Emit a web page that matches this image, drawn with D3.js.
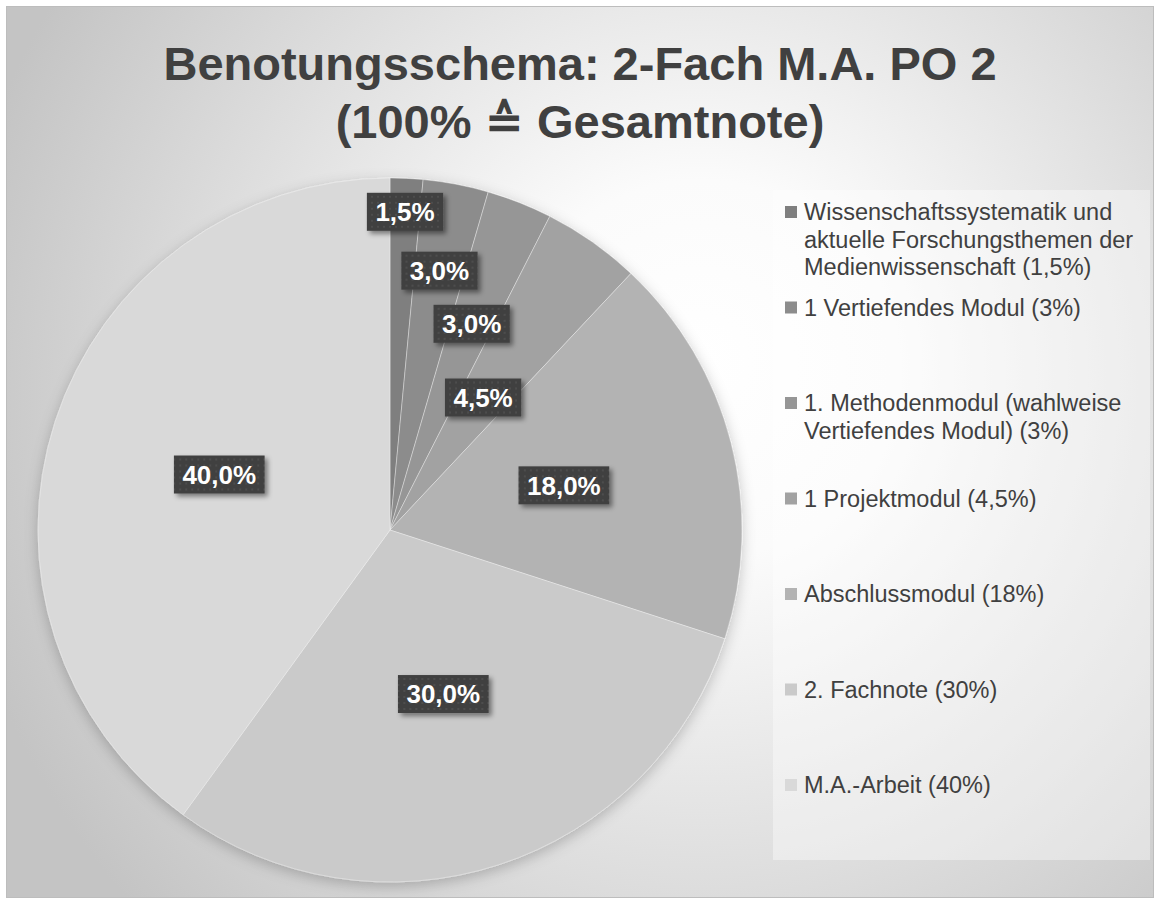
<!DOCTYPE html>
<html>
<head>
<meta charset="utf-8">
<script src="https://cdn.jsdelivr.net/npm/d3@7"></script>
<style>
  html, body { margin: 0; padding: 0; background: #ffffff; }
  svg { display: block; }
  text { font-family: "Liberation Sans", Arial, "DejaVu Sans", sans-serif; }
</style>
</head>
<body>
<svg id="chart" width="1160" height="904"></svg>
<script>
// ---- data ----
const titleLines = ["Benotungsschema: 2-Fach M.A. PO 2", "(100% \u2259 Gesamtnote)"];
const categories = [
  "Wissenschaftssystematik und aktuelle Forschungsthemen der Medienwissenschaft (1,5%)",
  "1 Vertiefendes Modul (3%)",
  "1. Methodenmodul (wahlweise Vertiefendes Modul) (3%)",
  "1 Projektmodul (4,5%)",
  "Abschlussmodul (18%)",
  "2. Fachnote (30%)",
  "M.A.-Arbeit (40%)"
];
const legendLines = [
  ["Wissenschaftssystematik und", "aktuelle Forschungsthemen der", "Medienwissenschaft (1,5%)"],
  ["1 Vertiefendes Modul (3%)"],
  ["1. Methodenmodul (wahlweise", "Vertiefendes Modul) (3%)"],
  ["1 Projektmodul (4,5%)"],
  ["Abschlussmodul (18%)"],
  ["2. Fachnote (30%)"],
  ["M.A.-Arbeit (40%)"]
];
const values = [1.5, 3.0, 3.0, 4.5, 18.0, 30.0, 40.0];
const dataLabels = ["1,5%", "3,0%", "3,0%", "4,5%", "18,0%", "30,0%", "40,0%"];
// styling / layout (not data)
const sliceColors = ["#7f7f7f", "#8c8c8c", "#969696", "#a2a2a2", "#b3b3b3", "#cacaca", "#d9d9d9"];
const labelRadiusFrac = [0.905, 0.75, 0.63, 0.46, 0.51, 0.49, 0.51];

const W = 1160, H = 904;
const svg = d3.select("#chart");
const defs = svg.append("defs");

// background gradient
const bg = defs.append("radialGradient").attr("id", "bgGrad")
  .attr("gradientUnits", "userSpaceOnUse")
  .attr("cx", 700).attr("cy", 400).attr("r", 760)
  .attr("fx", 700).attr("fy", 360);
bg.append("stop").attr("offset", "0").attr("stop-color", "#ffffff");
bg.append("stop").attr("offset", "0.25").attr("stop-color", "#fbfbfb");
bg.append("stop").attr("offset", "0.7").attr("stop-color", "#dadada");
bg.append("stop").attr("offset", "1").attr("stop-color", "#c4c4c4");

// dotted pattern for data label boxes
const pat = defs.append("pattern").attr("id", "dots")
  .attr("patternUnits", "userSpaceOnUse").attr("width", 6).attr("height", 6);
pat.append("rect").attr("width", 6).attr("height", 6).attr("fill", "#404040");
pat.append("rect").attr("x", 2).attr("y", 2).attr("width", 2).attr("height", 2).attr("fill", "#4d4d4d");

const pieShadow = defs.append("filter").attr("id", "pieShadow")
  .attr("x", "-20%").attr("y", "-20%").attr("width", "140%").attr("height", "140%");
pieShadow.append("feDropShadow").attr("dx", 0).attr("dy", 4).attr("stdDeviation", 7)
  .attr("flood-color", "#000").attr("flood-opacity", 0.22);

const boxShadow = defs.append("filter").attr("id", "boxShadow")
  .attr("x", "-20%").attr("y", "-30%").attr("width", "150%").attr("height", "170%");
boxShadow.append("feDropShadow").attr("dx", 3).attr("dy", 3).attr("stdDeviation", 2.5)
  .attr("flood-color", "#000").attr("flood-opacity", 0.45);

// chart area
svg.append("rect").attr("x", 6.5).attr("y", 6.5).attr("width", 1147).attr("height", 891)
  .attr("fill", "url(#bgGrad)").attr("stroke", "#bdbdbd").attr("stroke-width", 1);

// title
const title = svg.append("g");
title.selectAll("text").data(titleLines).join("text")
  .attr("x", 580).attr("y", (d, i) => 80 + i * 58)
  .attr("text-anchor", "middle")
  .attr("font-size", 47).attr("font-weight", "bold")
  .attr("fill", "#404040")
  .text(d => d);

// pie
const cx = 390, cy = 530, R = 352;
const pie = d3.pie().sort(null).value(d => d).startAngle(0).endAngle(2 * Math.PI);
const arcs = pie(values);
const arc = d3.arc().innerRadius(0).outerRadius(R);

const pg = svg.append("g").attr("transform", `translate(${cx},${cy})`);
pg.append("g").attr("filter", "url(#pieShadow)")
  .selectAll("path").data(arcs).join("path")
  .attr("d", arc)
  .attr("fill", (d, i) => sliceColors[i])
  .attr("stroke", "rgba(255,255,255,0.35)")
  .attr("stroke-width", 1);

// data labels
const lg = pg.append("g");
arcs.forEach((a, i) => {
  const mid = (a.startAngle + a.endAngle) / 2;
  const r = R * labelRadiusFrac[i];
  const x = Math.sin(mid) * r, y = -Math.cos(mid) * r;
  const g = lg.append("g").attr("transform", `translate(${x},${y})`);
  const t = g.append("text")
    .attr("text-anchor", "middle").attr("dy", "0.36em")
    .attr("font-size", 26).attr("font-weight", "bold")
    .attr("fill", "#ffffff").text(dataLabels[i]);
  const bb = t.node().getBBox();
  g.insert("rect", "text")
    .attr("x", -bb.width / 2 - 8.5).attr("y", -19)
    .attr("width", bb.width + 17).attr("height", 38)
    .attr("fill", "url(#dots)")
    .attr("filter", "url(#boxShadow)");
});

// legend
svg.append("rect").attr("x", 773).attr("y", 190).attr("width", 377).attr("height", 670)
  .attr("fill", "rgba(255,255,255,0.38)");
const leg = svg.append("g");
categories.forEach((c, i) => {
  const by = 220 + i * 95.5;
  const g = leg.append("g");
  g.append("rect").attr("x", 785).attr("y", by - 14).attr("width", 12).attr("height", 12)
    .attr("fill", sliceColors[i]);
  g.selectAll("text").data(legendLines[i]).join("text")
    .attr("x", 804).attr("y", (d, j) => by + j * 27.5)
    .attr("font-size", 23.5).attr("fill", "#404040")
    .text(d => d);
});
</script>
</body>
</html>
